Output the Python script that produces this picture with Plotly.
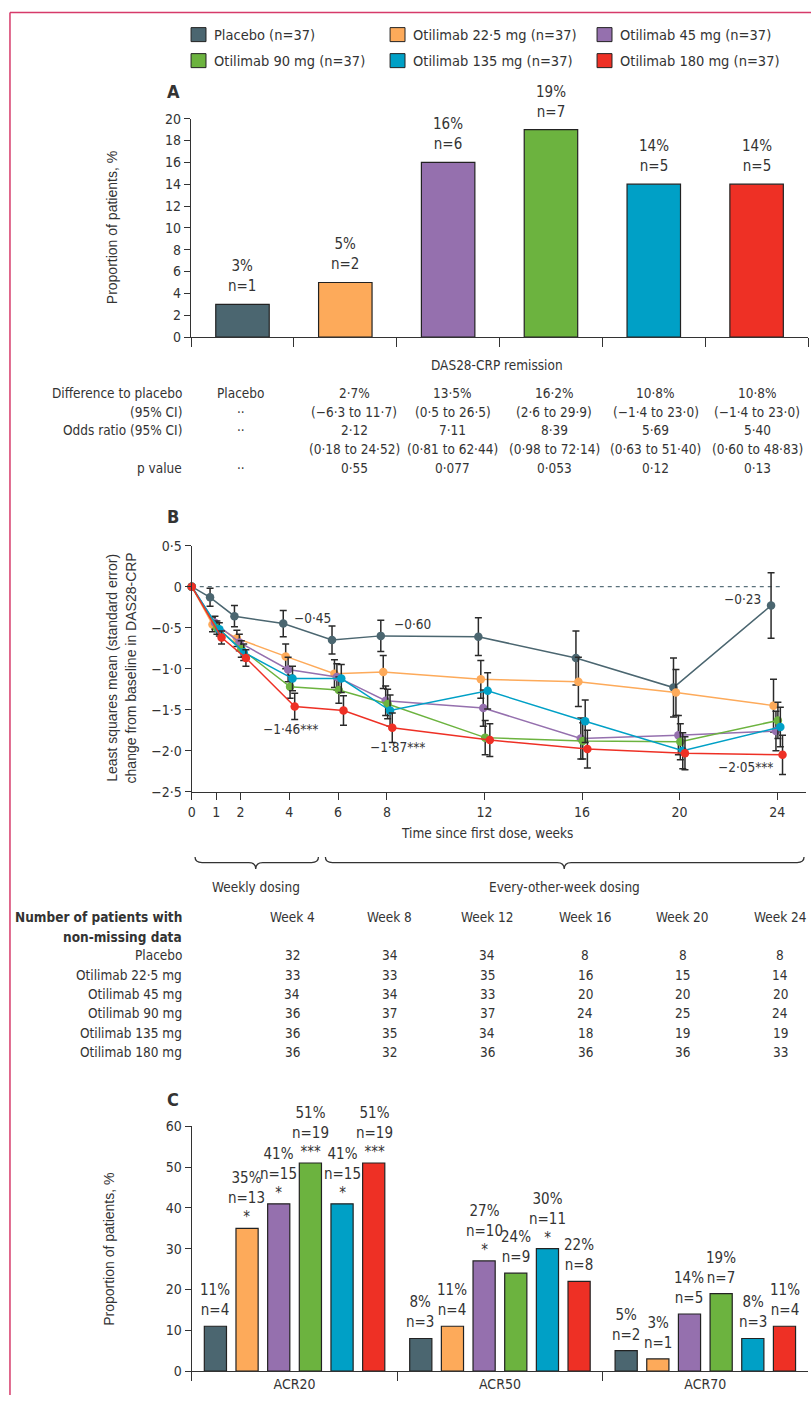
import plotly.graph_objects as go

W, H = 811, 1403
# The captured picture maps page rows as  y_pic = 0.988 * (y_page + 8.5);
# positions below are given in picture pixels and converted with py().
YS, YO = 0.988, 8.5
XO = 2

NARROW = "DejaVu Sans Condensed, Liberation Sans Narrow, sans-serif"
WIDE = "Liberation Sans, Arial, sans-serif"
TXT = "#333333"
AX = "#333333"

# ---------------- data ----------------
groups = ["Placebo", "Otilimab 22·5 mg", "Otilimab 45 mg",
          "Otilimab 90 mg", "Otilimab 135 mg", "Otilimab 180 mg"]
legend_labels = ["Placebo (n=37)", "Otilimab 22·5 mg (n=37)", "Otilimab 45 mg (n=37)",
                 "Otilimab 90 mg (n=37)", "Otilimab 135 mg (n=37)", "Otilimab 180 mg (n=37)"]
colors = ["#4B6670", "#FDAA5A", "#9570AE", "#6CB33F", "#00A0C6", "#EE3025"]

# Panel A: DAS28-CRP remission
remission_pct = [3, 5, 16, 19, 14, 14]
remission_n = [1, 2, 6, 7, 5, 5]

row_labels_A = ["Difference to placebo", "(95% CI)", "Odds ratio (95% CI)", "", "p value"]
diff_row = ["Placebo", "2·7%", "13·5%", "16·2%", "10·8%", "10·8%"]
diff_ci_row = ["··", "(−6·3 to 11·7)", "(0·5 to 26·5)", "(2·6 to 29·9)", "(−1·4 to 23·0)", "(−1·4 to 23·0)"]
or_row = ["··", "2·12", "7·11", "8·39", "5·69", "5·40"]
or_ci_row = ["", "(0·18 to 24·52)", "(0·81 to 62·44)", "(0·98 to 72·14)", "(0·63 to 51·40)", "(0·60 to 48·83)"]
p_row = ["··", "0·55", "0·077", "0·053", "0·12", "0·13"]

# Panel B: LS mean change from baseline in DAS28-CRP
weeks = [0, 1, 2, 4, 6, 8, 12, 16, 20, 24]
ls_placebo = [0, -0.13, -0.36, -0.45, -0.65, -0.60, -0.61, -0.87, -1.23, -0.23]
ls_225 = [0, -0.46, -0.63, -0.85, -1.06, -1.04, -1.13, -1.16, -1.29, -1.45]
ls_45 = [0, -0.44, -0.68, -1.01, -1.10, -1.39, -1.48, -1.85, -1.81, -1.76]
ls_90 = [0, -0.50, -0.76, -1.22, -1.26, -1.43, -1.84, -1.88, -1.89, -1.63]
ls_135 = [0, -0.52, -0.80, -1.12, -1.12, -1.51, -1.27, -1.64, -2.00, -1.71]
ls_180 = [0, -0.62, -0.87, -1.46, -1.51, -1.72, -1.87, -1.98, -2.03, -2.05]
se_placebo = [0, 0.11, 0.13, 0.16, 0.17, 0.19, 0.23, 0.33, 0.36, 0.40]
se_225 = [0, 0.09, 0.10, 0.15, 0.17, 0.20, 0.23, 0.30, 0.28, 0.32]
se_45 = [0, 0.08, 0.10, 0.15, 0.16, 0.18, 0.22, 0.25, 0.24, 0.24]
se_90 = [0, 0.08, 0.10, 0.14, 0.16, 0.18, 0.21, 0.22, 0.22, 0.22]
se_135 = [0, 0.08, 0.10, 0.15, 0.17, 0.19, 0.22, 0.26, 0.22, 0.24]
se_180 = [0, 0.08, 0.10, 0.16, 0.18, 0.18, 0.20, 0.23, 0.20, 0.24]
ls_series = [ls_placebo, ls_225, ls_45, ls_90, ls_135, ls_180]
se_series = [se_placebo, se_225, se_45, se_90, se_135, se_180]
b_ticks = [0.5, 0, -0.5, -1.0, -1.5, -2.0, -2.5]
b_ticktext = ["0·5", "0", "−0·5", "−1·0", "−1·5", "−2·0", "−2·5"]
b_xticks = [0, 1, 2, 4, 6, 8, 12, 16, 20, 24]
b_callouts = ["−0·45", "−0·60", "−1·46***", "−1·87***", "−0·23", "−2·05***"]

# Table: number of patients with non-missing data
tbl_weeks = [4, 8, 12, 16, 20, 24]
n_placebo = [32, 34, 34, 8, 8, 8]
n_225 = [33, 33, 35, 16, 15, 14]
n_45 = [34, 34, 33, 20, 20, 20]
n_90 = [36, 37, 37, 24, 25, 24]
n_135 = [36, 35, 34, 18, 19, 19]
n_180 = [36, 32, 36, 36, 36, 33]
n_rows = [n_placebo, n_225, n_45, n_90, n_135, n_180]

# Panel C: ACR responses
acr_cats = ["ACR20", "ACR50", "ACR70"]
acr_placebo = [11, 8, 5]
acr_225 = [35, 11, 3]
acr_45 = [41, 27, 14]
acr_90 = [51, 24, 19]
acr_135 = [41, 30, 8]
acr_180 = [51, 22, 11]
acrn_placebo = [4, 3, 2]
acrn_225 = [13, 4, 1]
acrn_45 = [15, 10, 5]
acrn_90 = [19, 9, 7]
acrn_135 = [15, 11, 3]
acrn_180 = [19, 8, 4]
sig_placebo = ["", "", ""]
sig_225 = ["*", "", ""]
sig_45 = ["*", "*", ""]
sig_90 = ["***", "", ""]
sig_135 = ["*", "*", ""]
sig_180 = ["***", "", ""]
acr_series = [acr_placebo, acr_225, acr_45, acr_90, acr_135, acr_180]
acrn_series = [acrn_placebo, acrn_225, acrn_45, acrn_90, acrn_135, acrn_180]
sig_series = [sig_placebo, sig_225, sig_45, sig_90, sig_135, sig_180]

# ---------------- helpers (picture pixels -> paper) ----------------
def px(x):
    return min(1.0, max(0.0, (x - XO) / W))

def py(y):
    return min(1.0, max(0.0, 1 - (y / YS - YO) / H))

annotations = []
shapes = []
FS = 13.5  # base text size

def ann(text, x, y, xanchor="center", yanchor="middle", size=FS, bold=False,
        family=NARROW, xref="paper", yref="paper", color=TXT, textangle=0,
        xshift=0, yshift=0):
    if xref == "paper":
        x = px(x)
    if yref == "paper":
        y = py(y)
    if bold:
        text = "<b>" + text + "</b>"
    annotations.append(dict(text=text, x=x, y=y, xref=xref, yref=yref,
                            xanchor=xanchor, yanchor=yanchor, showarrow=False,
                            textangle=textangle, xshift=xshift, yshift=yshift,
                            font=dict(family=family, size=size, color=color)))

fig = go.Figure()

# ---------------- Panel A ----------------
fig.add_trace(go.Bar(
    x=groups, y=remission_pct, width=0.52,
    marker=dict(color=colors, line=dict(color="#222222", width=1.2)),
    xaxis="x", yaxis="y", showlegend=False, hoverinfo="skip"))
for g, p, n in zip(groups, remission_pct, remission_n):
    ann(f"{p}%<br>n={n}", g, p, yanchor="bottom", xref="x", yref="y",
        size=15, yshift=7)

# ---------------- Panel B ----------------
offsets = [-0.25, -0.15, -0.05, 0.03, 0.13, 0.22]
for vals, se, col, off in zip(ls_series, se_series, colors, offsets):
    xs = [w + (off if w > 0 else 0) for w in weeks]
    fig.add_trace(go.Scatter(
        x=xs, y=vals, mode="lines+markers",
        line=dict(color=col, width=1.5),
        marker=dict(color=col, size=8.5),
        error_y=dict(type="data", array=se, color="#2a2a2a", thickness=1.5, width=3.5),
        xaxis="x2", yaxis="y2", showlegend=False, hoverinfo="skip", cliponaxis=False))

# ---------------- Panel C ----------------
BARGAP, GROUPGAP = 0.075, 0.3
c_x0, c_x1 = 190.8, 810
slot = (c_x1 - c_x0) / len(acr_cats) * (1 - BARGAP) / len(groups)
for gi, (vals, ns, sigs, col, name) in enumerate(
        zip(acr_series, acrn_series, sig_series, colors, groups)):
    fig.add_trace(go.Bar(
        x=acr_cats, y=vals, name=name,
        marker=dict(color=col, line=dict(color="#222222", width=1.2)),
        xaxis="x3", yaxis="y3", showlegend=False, hoverinfo="skip"))
    for cat, v, n, s in zip(acr_cats, vals, ns, sigs):
        t = f"{v}%<br>n={n}" + (f"<br>{s}" if s else "")
        ann(t, cat, v, yanchor="bottom", xref="x3", yref="y3", size=15,
            xshift=(gi - (len(groups) - 1) / 2) * slot, yshift=(0 if s else 5))

# ---------------- axes ----------------
tickfont = dict(family=NARROW, size=14, color=TXT)
common = dict(showgrid=False, zeroline=False, showline=True, linecolor=AX,
              linewidth=1.4, ticks="outside", tickcolor=AX, tickwidth=1.4,
              tickfont=tickfont, fixedrange=True)

b_x0, b_w24, b_x1 = 190.7, 779.0, 808
b_range_end = 24 * (b_x1 - b_x0) / (b_w24 - b_x0)

layout_axes = dict(
    xaxis=dict(common, domain=[px(190), px(810)], anchor="y", type="category",
               tickson="boundaries", ticklen=9, showticklabels=False,
               range=[-0.5, 5.5]),
    yaxis=dict(common, domain=[py(337.3), py(119)], anchor="x", range=[0, 20],
               tickvals=list(range(0, 21, 2)), ticklen=6),
    xaxis2=dict(common, domain=[px(b_x0), px(b_x1)], anchor="y2", range=[0, b_range_end],
                tickvals=b_xticks, ticklen=7),
    yaxis2=dict(common, domain=[py(791.7), py(545.7)], anchor="x2", range=[-2.5, 0.5],
                tickvals=b_ticks, ticktext=b_ticktext, ticklen=6),
    xaxis3=dict(common, domain=[px(c_x0), px(c_x1)], anchor="y3", type="category",
                tickson="boundaries", ticklen=9, range=[-0.5, 2.5]),
    yaxis3=dict(common, domain=[py(1370.7), py(1126)], anchor="x3", range=[0, 60],
                tickvals=list(range(0, 61, 10)), ticklen=6),
)

# ---------------- legend (custom) ----------------
leg_cols = [190, 390, 598]
leg_rows = [35, 61]
for i, (lab, col) in enumerate(zip(legend_labels, colors)):
    cx = leg_cols[i % 3]
    cy = leg_rows[i // 3]
    shapes.append(dict(type="rect", xref="paper", yref="paper",
                       x0=px(cx), x1=px(cx + 15), y0=py(cy + 7), y1=py(cy - 7),
                       fillcolor=col, line=dict(color="#222222", width=1)))
    ann(lab, cx + 21, cy, xanchor="left", size=14.5)

# ---------------- panel letters ----------------
ann("A", 172, 92, size=18, bold=True)
ann("B", 172, 517, size=18, bold=True)
ann("C", 172, 1099, size=18, bold=True)

# ---------------- axis titles ----------------
ann("Proportion of patients, %", 110, 228, size=14, family=WIDE, textangle=-90)
ann("Proportion of patients, %", 108, 1249, size=14, family=WIDE, textangle=-90)
ann("Least squares mean (standard error)<br>change from baseline in DAS28-CRP",
    120, 668, size=14, family=WIDE, textangle=-90)
ann("DAS28-CRP remission", 497, 365)
ann("Time since first dose, weeks", 487, 833)

# ---------------- table under A ----------------
colx_A = [240, 354, 453, 555, 657, 759]
rowy_A = [393, 412, 430, 449, 468]
rows_A = [diff_row, diff_ci_row, or_row, or_ci_row, p_row]
for lab, ry, row in zip(row_labels_A, rowy_A, rows_A):
    if lab:
        ann(lab, 183, ry, xanchor="right")
    for cx, val in zip(colx_A, row):
        if val:
            ann(val, cx, ry)

# ---------------- callouts in B ----------------
ann(b_callouts[0], 4.1, -0.38, xanchor="left", xref="x2", yref="y2")
ann(b_callouts[1], 8.2, -0.45, xanchor="left", xref="x2", yref="y2")
ann(b_callouts[2], 4.05, -1.74, xref="x2", yref="y2")
ann(b_callouts[3], 8.45, -1.96, xref="x2", yref="y2")
ann(b_callouts[4], 23.4, -0.15, xanchor="right", xref="x2", yref="y2")
ann(b_callouts[5], 23.9, -2.2, xanchor="right", xref="x2", yref="y2")

# dashed zero line
shapes.append(dict(type="line", xref="x2", yref="y2", x0=0, x1=24.2, y0=0, y1=0,
                   line=dict(color="#5a717b", width=1.4, dash="4px,4px"), layer="below"))

# ---------------- braces ----------------
def brace_path(x0, x1, xm, yt=857, yl=862.5, yb=869, r=7):
    P = lambda x, y: f"{px(x):.5f},{py(y):.5f}"
    return (f"M {P(x0, yt)} Q {P(x0, yl)} {P(x0 + r, yl)} L {P(xm - r, yl)} "
            f"Q {P(xm, yl)} {P(xm, yb)} Q {P(xm, yl)} {P(xm + r, yl)} "
            f"L {P(x1 - r, yl)} Q {P(x1, yl)} {P(x1, yt)}")

for x0, x1, xm in [(194, 318, 255), (325, 806, 565)]:
    shapes.append(dict(type="path", xref="paper", yref="paper",
                       path=brace_path(x0, x1, xm), line=dict(color="#333333", width=1.3)))
ann("Weekly dosing", 255, 887)
ann("Every-other-week dosing", 565, 887)

# ---------------- table under B ----------------
ann("Number of patients with", 183, 917, xanchor="right", bold=True)
ann("non-missing data", 183, 937, xanchor="right", bold=True)
for w in tbl_weeks:
    ann(f"Week {w}", w, 917, xref="x2", xshift=3)
rowy_B = [955, 975, 994, 1013, 1033, 1052]
for g, ry, row in zip(groups, rowy_B, n_rows):
    ann(g, 183, ry, xanchor="right")
    for w, v in zip(tbl_weeks, row):
        ann(str(v), w, ry, xref="x2", xshift=3)

# ---------------- page border ----------------
shapes.append(dict(type="line", xref="paper", yref="paper", x0=px(8), x1=1.0,
                   y0=py(13), y1=py(13), line=dict(color="#D63A6A", width=1.5)))
shapes.append(dict(type="line", xref="paper", yref="paper", x0=px(8), x1=px(8),
                   y0=py(13), y1=0, line=dict(color="#D63A6A", width=1.5)))

fig.update_layout(
    width=W, height=H, autosize=False,
    margin=dict(l=0, r=0, t=0, b=0),
    paper_bgcolor="white", plot_bgcolor="white",
    barmode="group", bargap=BARGAP, bargroupgap=GROUPGAP,
    showlegend=False,
    annotations=annotations, shapes=shapes,
    font=dict(family=NARROW, size=14, color=TXT),
    **layout_axes)

fig.write_html("out.html", config={"displayModeBar": False},
               post_script="document.body.style.margin='0px';"
                           "document.body.style.padding='0px';"
                           "document.documentElement.style.overflow='hidden';")
